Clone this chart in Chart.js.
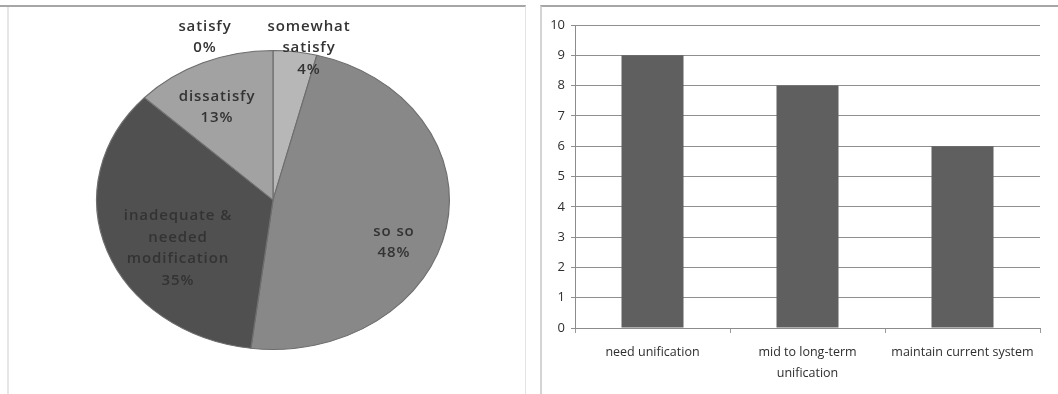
<!DOCTYPE html>
<html>
<head>
<meta charset="utf-8">
<script src="https://cdn.jsdelivr.net/npm/chart.js@4"></script>
<style>
  html, body { margin: 0; padding: 0; background: #fff; }
  body { width: 1058px; height: 394px; position: relative; overflow: hidden; }
  #leftBox { position: absolute; left: 0; top: 5px; width: 526px; height: 389px; box-sizing: border-box;
    border-top: 2px solid #a6a6a6; border-right: 1px solid #e2e2e2; }
  #leftLine { position: absolute; left: 7px; top: 7px; width: 2px; height: 387px; background: #e6e6e6; }
  #rightBox { position: absolute; left: 540px; top: 5px; width: 518px; height: 389px; box-sizing: border-box;
    border-top: 2px solid #a6a6a6; border-left: 2px solid #d4d4d4; }
  #pieWrap { position: absolute; left: 0; top: 0; width: 528px; height: 394px; }
  #barWrap { position: absolute; left: 540px; top: 0; width: 518px; height: 394px; }
</style>
</head>
<body>
<div id="leftBox"></div>
<div id="leftLine"></div>
<div id="rightBox"></div>
<div id="pieWrap"><canvas id="pieChart" width="528" height="394"></canvas></div>
<div id="barWrap"><canvas id="barChart" width="518" height="394"></canvas></div>
<script>
// pie: satisfaction with current system (%)
const pieLabels = ['somewhat satisfy', 'so so', 'inadequate & needed modification', 'dissatisfy', 'satisfy'];
const pieValues = [4, 48, 35, 13, 0];
const pieText = [['somewhat', 'satisfy', '4%'], ['so so', '48%'], ['inadequate &', 'needed', 'modification', '35%'], ['dissatisfy', '13%'], ['satisfy', '0%']];

// bar: opinion on unification
const barLabels = ['need unification', ['mid to long-term', 'unification'], 'maintain current system'];
const barValues = [9, 8, 6];
const yTicks = [0, 1, 2, 3, 4, 5, 6, 7, 8, 9, 10];

const pieColors = ['#b7b7b7', '#888888', '#505050', '#a2a2a2', '#c8c8c8'];
const stretchX = 177 / 150; // excel pie is a bit wider than tall

// where excel put each label, relative to pie centre
const labelSpots = [[36, -152], [121, 42], [-95, 48], [-56, -93], [-68, -163]];

const ellipsePlugin = {
  id: 'ellipse',
  beforeDatasetsDraw(chart) {
    const arc = chart.getDatasetMeta(0).data[0];
    const ctx = chart.ctx;
    ctx.save();
    ctx.translate(arc.x, arc.y);
    ctx.scale(stretchX, 1);
    ctx.translate(-arc.x, -arc.y);
  },
  afterDatasetsDraw(chart) {
    chart.ctx.restore();
  }
};

const pieLabelPlugin = {
  id: 'pieText',
  afterDraw(chart) {
    const ctx = chart.ctx;
    const arc = chart.getDatasetMeta(0).data[0];
    ctx.save();
    ctx.font = '600 15px "Open Sans"';
    ctx.letterSpacing = '0.9px';
    ctx.fillStyle = '#333333';
    ctx.textAlign = 'center';
    ctx.textBaseline = 'middle';
    const lh = 21.5;
    pieText.forEach((lines, i) => {
      const cx = arc.x + labelSpots[i][0];
      const cy = arc.y + labelSpots[i][1];
      const top = cy - (lines.length - 1) * lh / 2;
      lines.forEach((t, j) => ctx.fillText(t, cx, top + j * lh));
    });
    ctx.restore();
  }
};

new Chart(document.getElementById('pieChart'), {
  type: 'pie',
  data: {
    labels: pieLabels,
    datasets: [{
      data: pieValues,
      backgroundColor: pieColors,
      borderColor: '#6e6e6e',
      borderWidth: 1
    }]
  },
  options: {
    responsive: false,
    animation: false,
    layout: { padding: { left: 18, right: 0, top: 50, bottom: 44 } },
    plugins: { legend: { display: false }, tooltip: { enabled: false } }
  },
  plugins: [ellipsePlugin, pieLabelPlugin]
});

new Chart(document.getElementById('barChart'), {
  type: 'bar',
  data: {
    labels: barLabels,
    datasets: [{
      data: barValues,
      backgroundColor: '#5f5f5f',
      borderWidth: 0,
      barPercentage: 0.4,
      categoryPercentage: 1
    }]
  },
  options: {
    responsive: false,
    animation: false,
    layout: { padding: { left: 0, right: 18, top: 25, bottom: 0 } },
    plugins: { legend: { display: false }, tooltip: { enabled: false } },
    scales: {
      x: {
        afterFit: s => { s.height = 66; },
        grid: { drawOnChartArea: false, drawTicks: true, tickLength: 5, color: '#9a9a9a' },
        border: { color: '#8c8c8c', width: 1 },
        ticks: { color: '#2e2e2e', padding: 9, maxRotation: 0, font: { family: 'Open Sans', size: 12.5, lineHeight: 1.7 } }
      },
      y: {
        min: 0,
        max: 10,
        afterFit: s => { s.width = 35; },
        afterBuildTicks: s => { s.ticks = yTicks.map(v => ({ value: v })); },
        grid: { color: '#8f8f8f', tickLength: 4 },
        border: { color: '#8c8c8c', width: 1 },
        ticks: { color: '#2e2e2e', padding: 6, font: { family: 'Open Sans', size: 13 } }
      }
    }
  }
});
</script>
</body>
</html>
